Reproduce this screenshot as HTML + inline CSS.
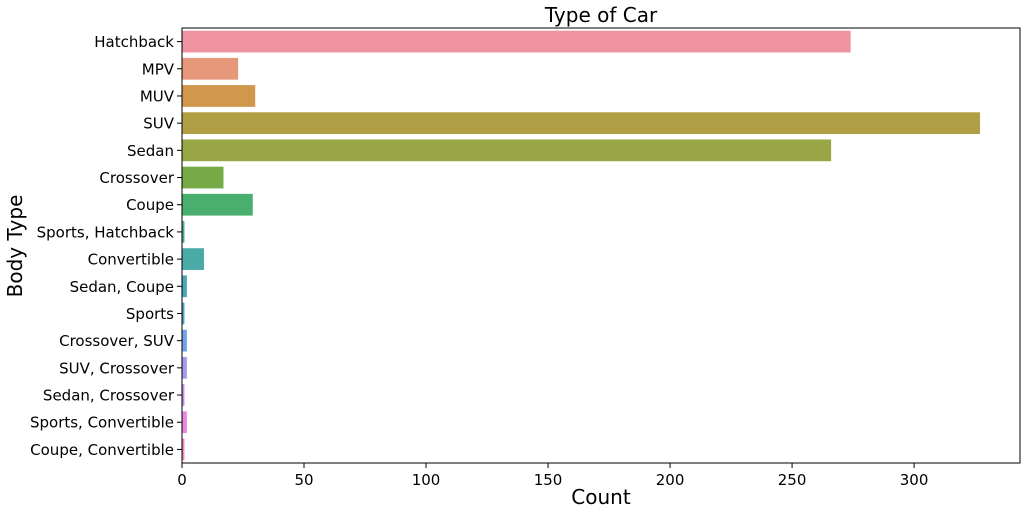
<!DOCTYPE html>
<html><head><meta charset="utf-8"><style>
body{margin:0;background:#fff;font-family:"DejaVu Sans","Liberation Sans",sans-serif}
svg text{font-family:"DejaVu Sans","Liberation Sans",sans-serif}
</style></head><body>
<svg id="chart" width="1026" height="515" xmlns="http://www.w3.org/2000/svg">
<text x="601" y="22" font-size="20" text-anchor="middle">Type of Car</text>
<text x="601" y="504" font-size="20" text-anchor="middle">Count</text>
<text transform="translate(22,246) rotate(-90)" font-size="20" text-anchor="middle">Body Type</text>
<g id="bars"></g>
<rect x="182" y="28" width="838" height="435" fill="none" stroke="#000" stroke-width="1"/>
</svg>
<script>
const categories=["Hatchback","MPV","MUV","SUV","Sedan","Crossover","Coupe","Sports, Hatchback","Convertible","Sedan, Coupe","Sports","Crossover, SUV","SUV, Crossover","Sedan, Crossover","Sports, Convertible","Coupe, Convertible"];
const counts=[274,23,30,327,266,17,29,1,9,2,1,2,2,1,2,1];
const xTicks=[0,50,100,150,200,250,300];
const colors=["#ef93a0","#e8987a","#d1974b","#b09f45","#98a646","#75aa47","#4aaf6e","#48ad93","#4aaaa6","#4aa8b5","#4ca5c6","#72a2ea","#a59af0","#c78cee","#ea86df","#ef8abc"];
const svg=document.getElementById('bars');
const NS="http://www.w3.org/2000/svg";
const L=182,R=1020,T=28,B=463,xmax=343.4;
const xs=v=>L+v/xmax*(R-L);
const band=(B-T)/categories.length;
const ys=i=>T+i*band;
function mk(t,a){const e=document.createElementNS(NS,t);for(const k in a)e.setAttribute(k,a[k]);svg.appendChild(e);return e;}
categories.forEach((c,i)=>{
  const r=mk('rect',{x:L,y:ys(i)+band*0.1,width:xs(counts[i])-L,height:band*0.8,fill:colors[i]});
  
  
  const cy=ys(i)+band/2;
  const tk=mk('line',{x1:L-5,x2:L,y1:cy,y2:cy,stroke:'#000'});
  
  
  const t=mk('text',{x:L-8,y:cy+5.5,'font-size':15,'text-anchor':'end'});
  t.textContent=c;
  
  
});
xTicks.forEach(v=>{
  const x=xs(v);
  const tk=mk('line',{x1:x,x2:x,y1:B,y2:B+5,stroke:'#000'});
  
  
  const t=mk('text',{x:x,y:B+22,'font-size':15,'text-anchor':'middle'});
  t.textContent=v;
  
  
});
</script>
</body></html>
